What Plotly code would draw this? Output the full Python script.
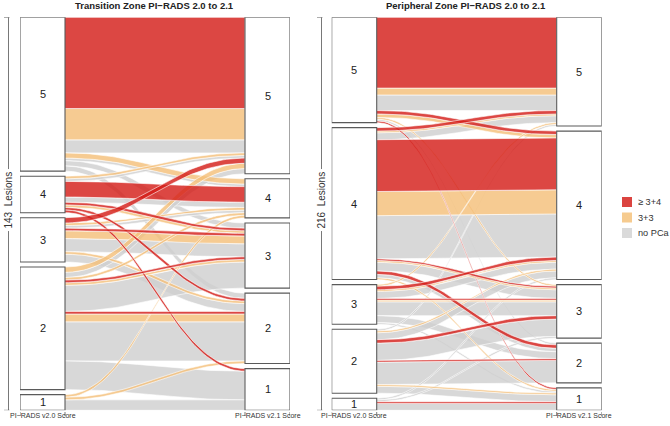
import numpy as np
import plotly.graph_objects as go

scores = [5, 4, 3, 2, 1]
classes = ['≥ 3+4', '3+3', 'no PCa']
R, O, G = classes
fill_colors = {R: 'rgba(212,30,26,0.82)', O: 'rgba(244,192,122,0.82)', G: 'rgba(208,208,208,0.82)'}
key_colors = ['#DB4440', '#F6CB8F', '#DADADA']

# Transition zone: PI-RADS v2.0 score -> v2.1 score, histology, number of lesions
tz_from = [5, 5, 5, 5, 5, 5, 5,
           4, 4, 4, 4, 4, 4, 4, 4,
           3, 3, 3, 3, 3, 3, 3, 3,
           2, 2, 2, 2, 2, 2, 2, 2, 2, 2,
           1, 1, 1]
tz_to = [5, 5, 5, 4, 4, 3, 2,
         5, 5, 4, 4, 3, 3, 2, 1,
         5, 4, 4, 3, 3, 3, 2, 2,
         5, 5, 4, 3, 3, 3, 2, 2, 2, 1,
         4, 2, 1]
tz_class = [R, O, G, O, G, G, G,
            O, G, R, G, R, O, R, R,
            R, O, G, R, O, G, O, G,
            O, G, O, R, O, G, R, O, G, G,
            O, O, G]
tz_count = [35, 12, 5, 2, 1, 2, 2,
            1, 1, 6, 2, 1, 1, 1, 1,
            2, 1, 1, 1, 3, 5, 1, 3,
            2, 2, 1, 1, 1, 10, 1, 3, 15, 11,
            1, 1, 4]

# Peripheral zone
pz_from = [5, 5, 5, 5, 5, 5, 5, 5,
           4, 4, 4, 4, 4, 4, 4, 4, 4, 4, 4, 4,
           3, 3, 3, 3, 3, 3, 3, 3, 3,
           2, 2, 2, 2, 2, 2, 2, 2, 2,
           1, 1, 1, 1]
pz_to = [5, 5, 5, 4, 4, 3, 2, 1,
         5, 5, 5, 4, 4, 4, 3, 3, 3, 2, 2, 1,
         5, 4, 4, 4, 3, 3, 3, 2, 1,
         5, 4, 4, 3, 3, 2, 2, 1, 1,
         4, 3, 1, 1]
pz_class = [R, O, G, R, O, O, G, R,
            R, O, G, R, O, G, R, O, G, R, G, O,
            O, R, O, G, R, O, G, G, G,
            G, O, G, R, G, R, G, O, G,
            G, G, R, G]
pz_count = [41, 4, 9, 2, 2, 1, 1, 1,
            2, 1, 4, 30, 14, 25, 1, 1, 5, 2, 2, 1,
            1, 2, 1, 4, 1, 1, 8, 4, 1,
            1, 1, 4, 2, 10, 1, 13, 1, 4,
            1, 1, 1, 4]

panels = [
    ('Transition Zone PI\u2212RADS 2.0 to 2.1', tz_from, tz_to, tz_class, tz_count),
    ('Peripheral Zone PI\u2212RADS 2.0 to 2.1', pz_from, pz_to, pz_class, pz_count),
]

W, H = 670, 426
box_w = 0.1667
gap = 0.0128
panel_left = [20, 331.7]
panel_width = 270
y_top_px, y_bot_px = 17.3, 410.3
font = 'Liberation Sans, Arial, sans-serif'
t = np.linspace(0, 1, 60)


def curve(x0, x1, y0, y1, k=0.42):
    dx = x1 - x0
    bx = (1 - t) ** 3 * x0 + 3 * (1 - t) ** 2 * t * (x0 + k * dx) + 3 * (1 - t) * t ** 2 * (x1 - k * dx) + t ** 3 * x1
    by = (1 - t) ** 3 * y0 + 3 * (1 - t) ** 2 * t * y0 + 3 * (1 - t) * t ** 2 * y1 + t ** 3 * y1
    return bx, by


def stack(flows, side, unit):
    other = 1 - side
    order = {c: i for i, c in enumerate(classes)}
    pos, boxes = {}, []
    top = 1.0
    for s in scores:
        members = [i for i, f in enumerate(flows) if f[side] == s]
        members.sort(key=lambda i: (-flows[i][other], order[flows[i][2]]))
        h = sum(flows[i][3] for i in members) * unit
        boxes.append((s, top - h, top))
        y = top
        for i in members:
            pos[i] = (y, y - flows[i][3] * unit)
            y -= flows[i][3] * unit
        top -= h + gap
    return pos, boxes


fig = go.Figure()
shapes, annotations = [], []

for p, (title, src, dst, cls, cnt) in enumerate(panels):
    xa = 'x' if p == 0 else 'x2'
    ya = 'y' if p == 0 else 'y2'
    flows = list(zip(src, dst, cls, cnt))
    total = sum(cnt)
    unit = (1 - 4 * gap) / total
    lpos, lboxes = stack(flows, 0, unit)
    rpos, rboxes = stack(flows, 1, unit)

    # draw gray first, red last
    for c in [G, O, R]:
        for i, f in enumerate(flows):
            if f[2] != c:
                continue
            xt, yt = curve(box_w, 1 - box_w, lpos[i][0], rpos[i][0])
            xb, yb = curve(box_w, 1 - box_w, lpos[i][1], rpos[i][1])
            fig.add_trace(go.Scatter(x=np.concatenate([xt, xb[::-1]]), y=np.concatenate([yt, yb[::-1]]),
                                     xaxis=xa, yaxis=ya, mode='lines', fill='toself',
                                     fillcolor=fill_colors[c], line=dict(color='white', width=0.6),
                                     showlegend=False, hoverinfo='skip'))

    for x0, boxes in [(0, lboxes), (1 - box_w, rboxes)]:
        for s, b0, b1 in boxes:
            shapes.append(dict(type='rect', xref=xa, yref=ya, x0=x0, x1=x0 + box_w, y0=b0, y1=b1,
                               fillcolor='white', line=dict(color='#5a5a5a', width=1.1), layer='above'))
            annotations.append(dict(xref=xa, yref=ya, x=x0 + box_w / 2, y=(b0 + b1) / 2, text=str(s),
                                    xanchor='center', showarrow=False,
                                    font=dict(size=11, color='#222', family=font)))

    # bottom axis ticks and labels
    for x0, lab in [(0, 'PI\u2212RADS v2.0 Score'), (1 - box_w, 'PI\u2212RADS v2.1 Score')]:
        for xx in [x0, x0 + box_w]:
            shapes.append(dict(type='line', xref=xa, yref='paper', x0=xx, x1=xx,
                               y0=(H - 412) / H, y1=(H - 416) / H, line=dict(color='#555', width=0.8)))
        annotations.append(dict(xref=xa, yref='paper', x=x0 + box_w / 2, y=(H - 421) / H, text=lab,
                                xanchor='center', showarrow=False,
                                font=dict(size=7, color='#333', family=font)))

    # left lesion axis
    ax_x = (8.5 if p == 0 else 321.5) / W
    shapes.append(dict(type='line', xref='paper', yref=ya, x0=ax_x, x1=ax_x, y0=0, y1=1,
                       line=dict(color='#555', width=0.8)))
    for yy in [0, 1]:
        shapes.append(dict(type='line', xref='paper', yref=ya, x0=ax_x - 4.5 / W, x1=ax_x + 1 / W,
                           y0=yy, y1=yy, line=dict(color='#555', width=0.8)))
    annotations.append(dict(xref='paper', yref=ya, x=ax_x, y=0.535, text=f'{total}  Lesions',
                            xanchor='center', yanchor='middle', textangle=-90, showarrow=False,
                            bgcolor='white', borderpad=2,
                            font=dict(size=10, color='#333', family=font)))

    annotations.append(dict(xref='paper', yref='paper', x=(panel_left[p] + panel_width / 2 - 1) / W,
                            y=1 - 6 / H, text=f'<b>{title}</b>', xanchor='center', yanchor='middle',
                            showarrow=False, font=dict(size=9.5, color='#222', family=font)))

# colour key
for k, (lab, col) in enumerate(zip(classes, key_colors)):
    yc = 202 + 15.5 * k
    shapes.append(dict(type='rect', xref='paper', yref='paper', x0=622 / W, x1=632 / W,
                       y0=(H - yc + 5) / H, y1=(H - yc - 5) / H, fillcolor=col, line=dict(width=0)))
    annotations.append(dict(xref='paper', yref='paper', x=635.5 / W, y=(H - yc) / H, text=lab,
                            xanchor='left', yanchor='middle', showarrow=False,
                            font=dict(size=9.2, color='#333', family=font)))

ydom = [(H - y_bot_px) / H, (H - y_top_px) / H]
axis_off = dict(visible=False, range=[0, 1], fixedrange=True)
fig.update_layout(
    width=W, height=H, margin=dict(l=0, r=0, t=0, b=0),
    plot_bgcolor='white', paper_bgcolor='white', showlegend=False,
    xaxis=dict(axis_off, domain=[panel_left[0] / W, (panel_left[0] + panel_width) / W]),
    xaxis2=dict(axis_off, domain=[panel_left[1] / W, (panel_left[1] + panel_width) / W]),
    yaxis=dict(axis_off, domain=ydom),
    yaxis2=dict(axis_off, domain=ydom),
    shapes=shapes, annotations=annotations,
)

fig.write_html("out.html", config={'displayModeBar': False},
               post_script="document.body.style.margin='0';")
